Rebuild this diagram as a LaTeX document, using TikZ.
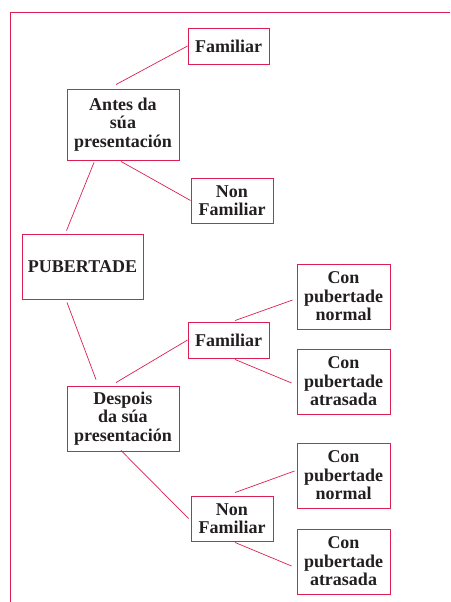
\documentclass[tikz,border=0pt]{standalone}
\usepackage{fontspec}
\setmainfont{Liberation Serif}
\definecolor{framered}{RGB}{218,32,82}
\definecolor{inkgray}{RGB}{35,31,32}

\tikzset{
    box/.style = {draw=framered, line width=0.9pt, inner sep=0pt, align=center,
                  text=inkgray, font=\fontsize{18}{18.5}\selectfont\bfseries},
    link/.style = {draw=framered, line width=0.7pt},
}

\begin{document}
\begin{tikzpicture}
    [
        x = 1pt, y = -1pt,
    ]

    \useasboundingbox (0,0) rectangle (450,602);
    \draw[framered, line width=0.9pt] (450,12) -- (10,12) -- (10,602);

    \node[box, minimum width=121pt, minimum height=65pt] (pub) at (82.5,266.5) {PUBERTADE};

    \node[box, minimum width=112pt, minimum height=71pt] (antes) at (123,124.5) {Antes da\\súa\\presentación};
    \node[box, minimum width=112pt, minimum height=65pt] (despois) at (123,418.5) {Despois\\da súa\\presentación};

    \node[box, minimum width=81pt, minimum height=36pt] (fam1) at (228.5,46) {Familiar};
    \node[box, minimum width=82pt, minimum height=45pt] (nonfam1) at (232,200.5) {Non\\Familiar};
    \node[box, minimum width=81pt, minimum height=36pt] (fam2) at (228.5,340) {Familiar};
    \node[box, minimum width=82pt, minimum height=45pt] (nonfam2) at (232,518.5) {Non\\Familiar};

    \node[box, minimum width=93pt, minimum height=65pt] (norm1) at (343.5,296.5) {Con\\pubertade\\normal};
    \node[box, minimum width=93pt, minimum height=65pt] (atr1) at (343.5,381.5) {Con\\pubertade\\atrasada};
    \node[box, minimum width=93pt, minimum height=65pt] (norm2) at (343.5,475.5) {Con\\pubertade\\normal};
    \node[box, minimum width=93pt, minimum height=65pt] (atr2) at (343.5,561.5) {Con\\pubertade\\atrasada};

    % antes da presentacion
    \draw[link] ([xshift=-7pt,yshift=4pt]antes.north) -- (fam1.west);
    \draw[link] ([xshift=-2pt,yshift=-1pt]antes.south) -- (nonfam1.west);
    \draw[link] ([xshift=-29pt,yshift=-2pt]antes.south) -- ([xshift=-16pt,yshift=3pt]pub.north);

    % despois da presentacion
    \draw[link] ([xshift=-15.5pt,yshift=-3pt]pub.south) -- ([xshift=-27pt,yshift=6pt]despois.north);
    \draw[link] ([xshift=-7pt,yshift=3pt]despois.north) -- (fam2.west);
    \draw[link] ([xshift=-2pt,yshift=1pt]despois.south) -- ([xshift=-2pt]nonfam2.west);

    \draw[link] ([xshift=6.5pt,yshift=1pt]fam2.north) -- ([xshift=-4pt,yshift=-3.5pt]norm1.west);
    \draw[link] ([xshift=6.5pt,yshift=-1pt]fam2.south) -- ([xshift=-5pt,yshift=-1.5pt]atr1.west);
    \draw[link] ([xshift=3pt,yshift=3pt]nonfam2.north) -- ([xshift=-2pt,yshift=4.5pt]norm2.west);
    \draw[link] ([xshift=3pt,yshift=-1pt]nonfam2.south) -- ([xshift=-5pt,yshift=-4.5pt]atr2.west);

\end{tikzpicture}
\end{document}
